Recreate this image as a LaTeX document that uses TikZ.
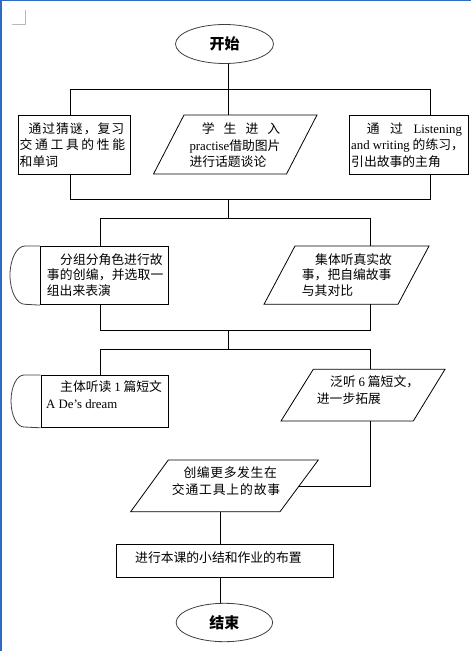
\documentclass[tikz,border=0pt]{standalone}
\usepackage{fontspec}
\setmainfont{Noto Sans CJK SC}
\newfontfamily\lat{Liberation Serif}
\usetikzlibrary{shapes.geometric}
\definecolor{edgeblue}{RGB}{49,106,197}
\newcommand\fs{\fontsize{12.8}{15}\selectfont}
\newcommand\g{\hfill}
\newcommand\spr[2]{\makebox[#1][s]{#2}}
\begin{document}
\begin{tikzpicture}[x=1pt,y=-1pt,
  ln/.style={anchor=base west, inner sep=0pt, font=\fs},
  rbox/.style={draw, line width=0.8pt, anchor=north west, inner sep=0pt},
  cn/.style={line width=0.8pt},
  capline/.style={draw=black!75, line width=0.8pt},
  ovl/.style={draw=black!75, line width=0.8pt, ellipse, inner sep=0pt, font=\fontsize{15}{15}\selectfont\bfseries},
]
\useasboundingbox (0,0) rectangle (471,651);
\fill[white] (0,0) rectangle (471,651);
\fill[edgeblue] (0,0) rectangle (2.3,651);
\fill[edgeblue] (0,0) rectangle (471,1);
\draw[gray!55, line width=0.6pt] (11.7,24) -- (25,24) -- (25,10);

% ---------- shapes ----------
\node[ovl, minimum width=98pt, minimum height=39pt] (start) at (224.5,44) {开始};

\node[rbox, minimum width=111.7pt, minimum height=59pt] (b1) at (18.3,115) {};
\draw[cn] (184,115) -- (317,115) -- (286.5,174) -- (153.5,174) -- cycle;
\coordinate (p1n) at (228.3,115);
\node[rbox, minimum width=118.5pt, minimum height=59pt] (b3) at (349,115) {};

\node[rbox, minimum width=128.3pt, minimum height=58.3pt] (L2) at (40,246) {};
\draw[capline] (L2.north west) -- (25,246) arc[start angle=270, end angle=90, x radius=15, y radius=29.15] -- (L2.south west);
\draw[cn] (295,246) -- (429,246) -- (398,304.3) -- (264,304.3) -- cycle;
\coordinate (p2n) at (370,246);
\coordinate (p2s) at (370,304.3);

\node[rbox, minimum width=127.8pt, minimum height=52pt] (L3) at (40.5,375) {};
\draw[capline] (L3.north west) -- (24,375) arc[start angle=270, end angle=90, x radius=13, y radius=26] -- (L3.south west);
\draw[cn] (313.3,369.3) -- (445,369.3) -- (413.3,421) -- (281,421) -- cycle;
\coordinate (p3n) at (370,369.3);
\coordinate (p3s) at (370,421);

\draw[cn] (168.3,460) -- (318.3,460) -- (280,511.7) -- (130.7,511.7) -- cycle;
\coordinate (p4e) at (299,486);
\coordinate (p4s) at (220.7,511.7);

\node[rbox, minimum width=217.6pt, minimum height=32.4pt] (b9) at (115.7,544.3) {};
\node[ovl, minimum width=96.6pt, minimum height=38.4pt] (end) at (224.4,622.5) {结束};

% ---------- junctions ----------
\coordinate (j1) at (228.3,89.3);
\coordinate (j1L) at (70.3,89.3);
\coordinate (j1R) at (430.3,89.3);
\coordinate (j2) at (228.3,199.3);
\coordinate (j2L) at (70.3,199.3);
\coordinate (j2R) at (430.3,199.3);
\coordinate (j3) at (228.3,218);
\coordinate (j3L) at (100,218);
\coordinate (j3R) at (370,218);
\coordinate (j4) at (228.3,330);
\coordinate (j4L) at (100,330);
\coordinate (j4R) at (370,330);
\coordinate (j5) at (228.3,349.3);
\coordinate (j5L) at (100,349.3);
\coordinate (j5R) at (370,349.3);
\coordinate (j6) at (370,486);
\coordinate (j9) at (220.7,544.3);

% ---------- connectors ----------
\draw[cn] (start.south -| j1) -- (j1);
\draw[cn] (b1.north -| j1L) -- (j1L) -- (j1R) -- (b3.north -| j1R);
\draw[cn] (j1) -- (p1n);
\draw[cn] (b1.south -| j2L) -- (j2L) -- (j2R) -- (b3.south -| j2R);
\draw[cn] (j2) -- (j3);
\draw[cn] (L2.north -| j3L) -- (j3L) -- (j3R) -- (p2n);
\draw[cn] (L2.south -| j4L) -- (j4L) -- (j4R) -- (p2s);
\draw[cn] (j4) -- (j5);
\draw[cn] (L3.north -| j5L) -- (j5L) -- (j5R) -- (p3n);
\draw[cn] (p3s) -- (j6) -- (p4e);
\draw[cn] (p4s) -- (b9.north -| p4s);
\draw[cn] (b9.south -| p4s) -- (end.north -| p4s);

% ---------- texts ----------
\node[ln] (t1a) at (28.3,133.2) {\spr{95.7pt}{通\g 过\g 猜\g 谜\g ，\g 复\g 习}};
\node[ln] (t1b) at (19.5,149.9) {\spr{105.5pt}{交\g 通\g 工\g 具\g 的\g 性\g 能}};
\node[ln] (t1c) at (19.5,166.6) {和单词};

\node[ln] (t2a) at (201.7,133.2) {\spr{78.3pt}{学\g 生\g 进\g 入}};
\node[ln] (t2b) at (189.3,150.8) {{\lat practise}借助图片};
\node[ln] (t2c) at (189.3,166.6) {进行话题谈论};

\node[ln] (t3a) at (366.7,133.2) {\spr{95pt}{通\g 过\g {\lat Listening}}};
\node[ln] (t3b) at (351,149.9) {{\lat and writing} 的练习，};
\node[ln] (t3c) at (351,166.6) {引出故事的主角};

\node[ln] (t4a) at (60,264.2) {分组分角色进行故};
\node[ln] (t4b) at (46.7,279.9) {\spr{116.6pt}{事\g 的\g 创\g 编\g ，\g 并\g 选\g 取\g 一}};
\node[ln] (t4c) at (46.7,295.9) {组出来表演};

\node[ln] (t5a) at (315,264.2) {集体听真实故};
\node[ln] (t5b) at (301.7,279.9) {事，把自编故事};
\node[ln] (t5c) at (301.7,295.9) {与其对比};

\node[ln] (t6a) at (60,391.6) {主体听读 {\lat 1} 篇短文};
\node[ln] (t6b) at (46,408.5) {\lat A De’s dream};

\node[ln] (t7a) at (330,386.6) {泛听 {\lat 6} 篇短文，};
\node[ln] (t7b) at (316.7,403.9) {进一步拓展};

\node[ln] (t8a) at (183.3,477.2) {\spr{93.4pt}{创\g 编\g 更\g 多\g 发\g 生\g 在}};
\node[ln] (t8b) at (171.7,494.2) {\spr{108.3pt}{交\g 通\g 工\g 具\g 上\g 的\g 故\g 事}};

\node[ln] (t9) at (135,562.2) {进行本课的小结和作业的布置};
\end{tikzpicture}
\end{document}
